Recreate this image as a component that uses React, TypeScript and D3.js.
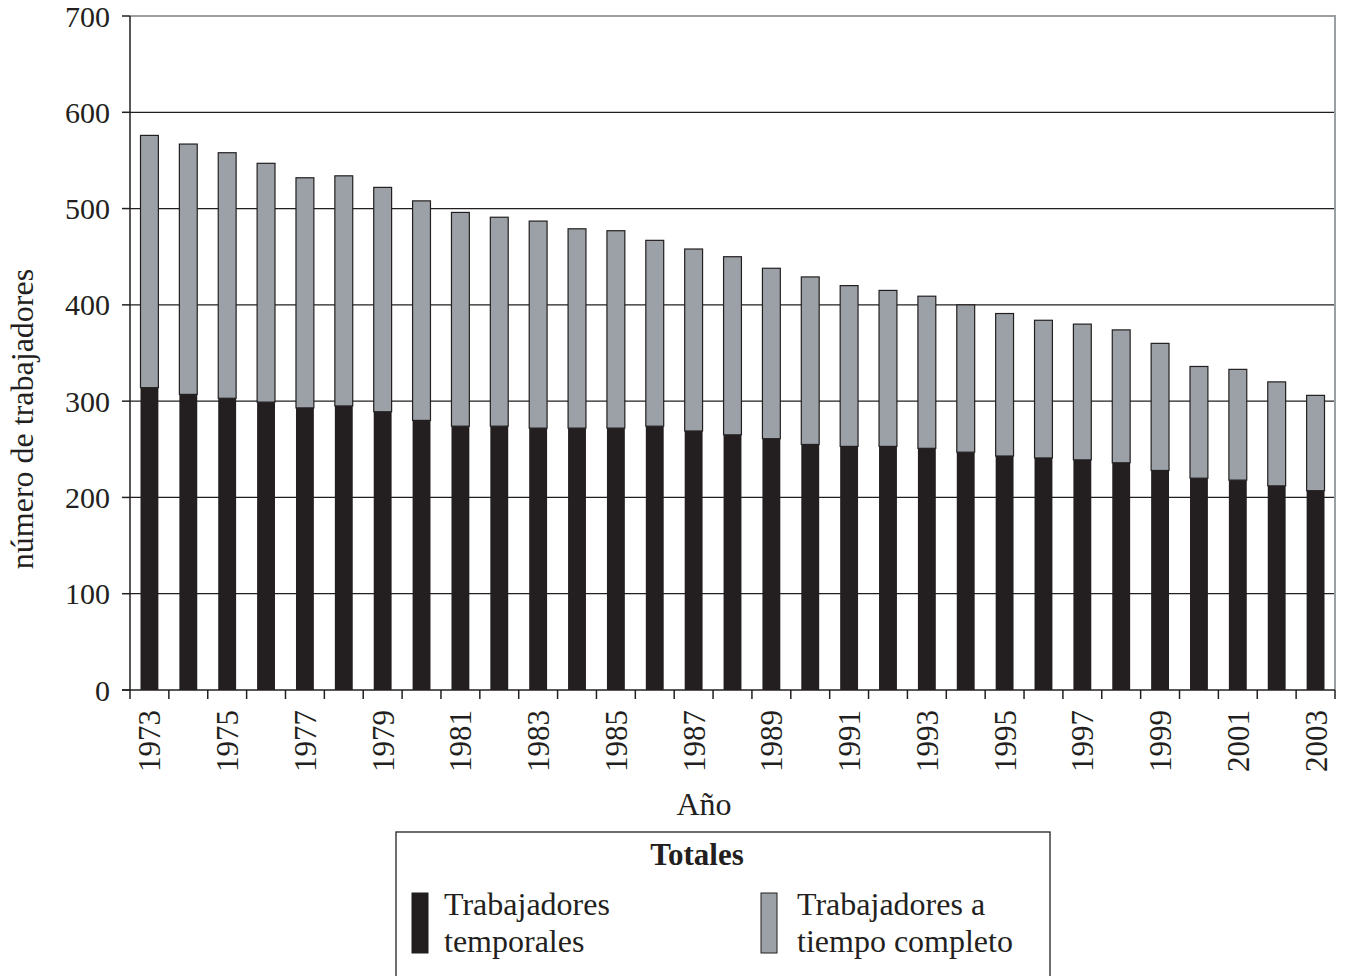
import { useEffect, useRef } from 'react';
import * as d3 from 'd3';

const years = d3.range(1973, 2004).map(String);
const temporales = [314, 307, 303, 299, 293, 295, 289, 280, 274, 274, 272, 272, 272, 274, 269, 265, 261, 255, 253, 253, 251, 247, 243, 241, 239, 236, 228, 220, 218, 212, 207];
const totales = [576, 567, 558, 547, 532, 534, 522, 508, 496, 491, 487, 479, 477, 467, 458, 450, 438, 429, 420, 415, 409, 400, 391, 384, 380, 374, 360, 336, 333, 320, 306];
const yTicks = [0, 100, 200, 300, 400, 500, 600, 700];

const BLACK = '#231f20';
const GRAY = '#9ba1a6';
const FONT = '"Liberation Serif", "Times New Roman", serif';

export default function App() {
  const svgRef = useRef<SVGSVGElement>(null);

  useEffect(() => {
    if (!svgRef.current) return;
    const svg = d3.select(svgRef.current);
    svg.selectAll('*').remove();

    const left = 130, right = 1335, top = 16, bottom = 690;

    const x = d3.scaleBand<string>().domain(years).range([left, right]).paddingInner(0.54).paddingOuter(0.27);
    const y = d3.scaleLinear().domain([0, 700]).range([bottom, top]);

    const g = svg.append('g').style('font-family', FONT).attr('fill', BLACK);

    // grid
    g.selectAll('.grid')
      .data(yTicks.filter(t => t > 0 && t < 700))
      .enter()
      .append('line')
      .attr('x1', left)
      .attr('x2', right)
      .attr('y1', d => y(d))
      .attr('y2', d => y(d))
      .attr('stroke', BLACK)
      .attr('stroke-width', 1.3);

    // top / right frame
    g.append('path')
      .attr('d', `M${left},${y(700)}H${right}V${bottom}`)
      .attr('fill', 'none')
      .attr('stroke', '#9a9fa4')
      .attr('stroke-width', 2);

    // bars
    const bars = g.selectAll('.bar').data(years).enter().append('g');
    bars.append('rect')
      .attr('x', d => x(d)!)
      .attr('width', x.bandwidth())
      .attr('y', (_d, i) => y(totales[i]))
      .attr('height', (_d, i) => y(temporales[i]) - y(totales[i]))
      .attr('fill', GRAY)
      .attr('stroke', BLACK)
      .attr('stroke-width', 1.2);
    bars.append('rect')
      .attr('x', d => x(d)!)
      .attr('width', x.bandwidth())
      .attr('y', (_d, i) => y(temporales[i]))
      .attr('height', (_d, i) => bottom - y(temporales[i]))
      .attr('fill', BLACK);

    // y axis
    g.append('line').attr('x1', left).attr('x2', left).attr('y1', y(700)).attr('y2', bottom)
      .attr('stroke', BLACK).attr('stroke-width', 1.5);
    g.selectAll('.ytick').data(yTicks).enter().append('line')
      .attr('x1', left - 8).attr('x2', left).attr('y1', d => y(d)).attr('y2', d => y(d))
      .attr('stroke', BLACK).attr('stroke-width', 1.5);
    g.selectAll('.ylab').data(yTicks).enter().append('text')
      .attr('x', left - 20)
      .attr('y', d => y(d))
      .attr('dy', '0.35em')
      .attr('text-anchor', 'end')
      .style('font-size', '30px')
      .text(d => d);

    // x axis
    g.append('line').attr('x1', left - 8).attr('x2', right).attr('y1', bottom).attr('y2', bottom)
      .attr('stroke', BLACK).attr('stroke-width', 1.5);
    const step = x.step();
    g.selectAll('.xtick').data(d3.range(years.length + 1)).enter().append('line')
      .attr('x1', i => left + i * step).attr('x2', i => left + i * step)
      .attr('y1', bottom).attr('y2', bottom + 9)
      .attr('stroke', BLACK).attr('stroke-width', 1.5);
    g.selectAll('.xlab').data(years.filter((_d, i) => i % 2 === 0)).enter().append('text')
      .attr('transform', d => `translate(${x(d)! + x.bandwidth() / 2 + 11},${bottom + 20}) rotate(-90)`)
      .attr('text-anchor', 'end')
      .style('font-size', '31px')
      .text(d => d);

    // axis titles
    g.append('text')
      .attr('x', 704).attr('y', 815)
      .attr('text-anchor', 'middle')
      .style('font-size', '32px')
      .text('Año');
    g.append('text')
      .attr('transform', `translate(33,419) rotate(-90)`)
      .attr('text-anchor', 'middle')
      .style('font-size', '32px')
      .text('número de trabajadores');

    // legend
    const lg = g.append('g');
    lg.append('rect')
      .attr('x', 396).attr('y', 832).attr('width', 654).attr('height', 160)
      .attr('fill', 'white').attr('stroke', BLACK).attr('stroke-width', 1.3);
    lg.append('text')
      .attr('x', 697).attr('y', 865)
      .attr('text-anchor', 'middle')
      .style('font-size', '31px').style('font-weight', 'bold')
      .text('Totales');
    const items = [
      { color: BLACK, sx: 412, tx: 444, lines: ['Trabajadores', 'temporales'] },
      { color: GRAY, sx: 761, tx: 797, lines: ['Trabajadores a', 'tiempo completo'] }
    ];
    items.forEach(it => {
      lg.append('rect')
        .attr('x', it.sx).attr('y', 893).attr('width', 16).attr('height', 60)
        .attr('fill', it.color).attr('stroke', BLACK).attr('stroke-width', 1);
      it.lines.forEach((l, i) => {
        lg.append('text')
          .attr('x', it.tx).attr('y', 915 + i * 37)
          .style('font-size', '32px')
          .text(l);
      });
    });
  }, []);

  return (
    <svg
      ref={svgRef}
      width={1346}
      height={976}
      style={{ position: 'absolute', left: 0, top: 0, background: 'white' }}
    />
  );
}
